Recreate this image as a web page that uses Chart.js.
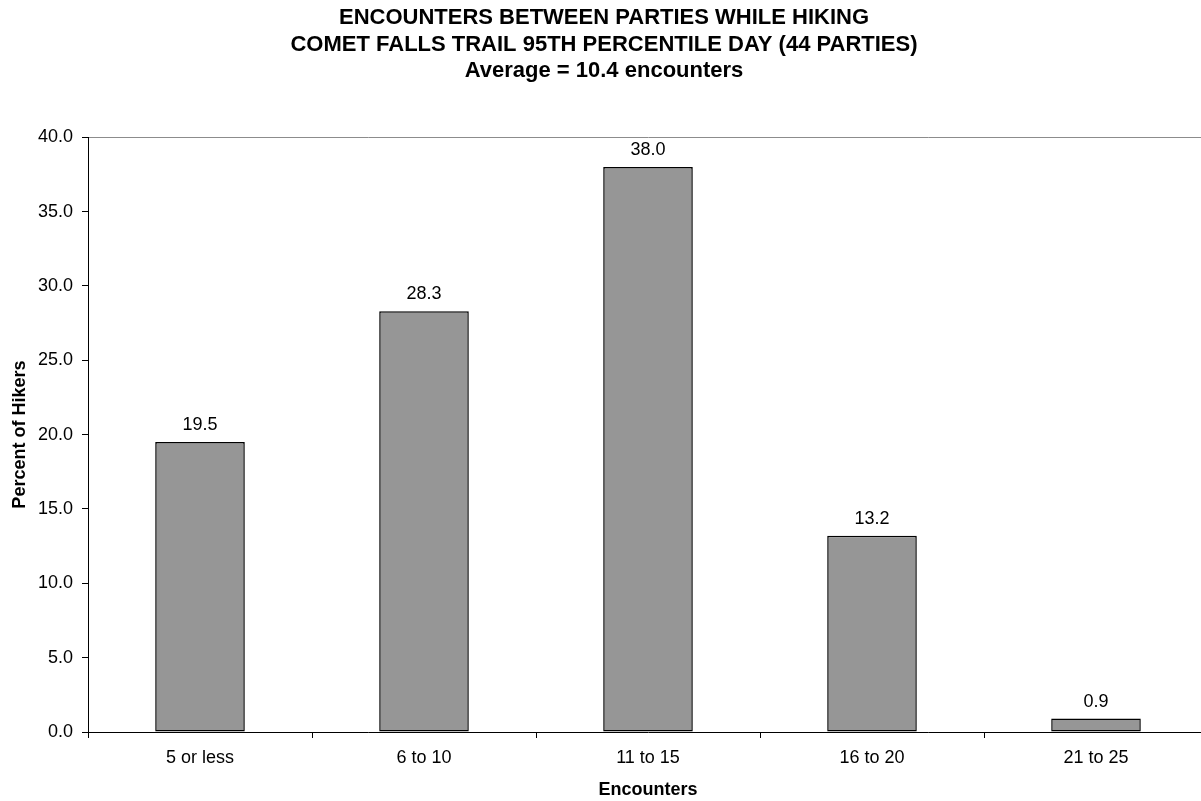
<!DOCTYPE html>
<html>
<head>
<meta charset="utf-8">
<script src="https://cdn.jsdelivr.net/npm/chart.js@4/dist/chart.umd.min.js"></script>
<style>
  html, body { margin: 0; padding: 0; background: #fff; overflow: hidden; }
  #wrap { width: 1201px; height: 801px; overflow: hidden; }
</style>
</head>
<body>
<div id="wrap"><canvas id="c" width="1230" height="801"></canvas></div>
<script>
  // 資料
  var titleLines = [
    'ENCOUNTERS BETWEEN PARTIES WHILE HIKING',
    'COMET FALLS TRAIL 95TH PERCENTILE DAY (44 PARTIES)',
    'Average = 10.4 encounters'
  ];
  var categories = ['5 or less', '6 to 10', '11 to 15', '16 to 20', '21 to 25'];
  var percents = [19.5, 28.3, 38.0, 13.2, 0.9];
  var yMin = 0, yMax = 40, yStep = 5;

  var FONT = "'Liberation Sans', Arial, sans-serif";

  /* 長條上方數值標籤 */
  var valueLabels = {
    id: 'valueLabels',
    afterDatasetsDraw: function (chart) {
      var ctx = chart.ctx;
      var meta = chart.getDatasetMeta(0);
      ctx.save();
      ctx.font = '18px ' + FONT;
      ctx.fillStyle = '#000';
      ctx.textAlign = 'center';
      ctx.textBaseline = 'middle';
      meta.data.forEach(function (bar, i) {
        ctx.fillText(percents[i].toFixed(1), bar.x, bar.y - 17);
      });
      ctx.restore();
    }
  };

  new Chart(document.getElementById('c').getContext('2d'), {
    type: 'bar',
    data: {
      labels: categories,
      datasets: [{
        data: percents,
        backgroundColor: '#969696',
        borderColor: '#000',
        borderWidth: 1.5,
        borderSkipped: false,
        categoryPercentage: 1,
        barPercentage: 0.4
      }]
    },
    options: {
      responsive: false,
      animation: false,
      layout: { padding: { left: 0, right: 22, top: 0, bottom: 0 } },
      plugins: {
        legend: { display: false },
        tooltip: { enabled: false },
        title: {
          display: true,
          text: titleLines,
          color: '#000',
          font: { family: FONT, size: 22, weight: 'bold', lineHeight: 1.2 },
          padding: { top: 5, bottom: 53 }
        }
      },
      scales: {
        x: {
          offset: true,
          grid: { offset: true, drawOnChartArea: false, drawTicks: true, tickLength: 6, tickColor: '#000' },
          border: { color: '#000', width: 1 },
          ticks: { color: '#000', font: { family: FONT, size: 18 }, padding: 9, maxRotation: 0 },
          title: { display: true, text: 'Encounters', color: '#000', font: { family: FONT, size: 18, weight: 'bold' }, padding: { top: 4, bottom: 0 } },
          afterFit: function (s) { s.height = 69; }
        },
        y: {
          min: yMin, max: yMax,
          ticks: {
            stepSize: yStep, color: '#000', font: { family: FONT, size: 18 }, padding: 9,
            callback: function (v) { return Number(v).toFixed(1); }
          },
          grid: {
            drawTicks: true, tickLength: 6,
            color: function (c) { return c.tick && c.tick.value === yMax ? '#8c8c8c' : 'rgba(0,0,0,0)'; },
            tickColor: '#000'
          },
          border: { color: '#000', width: 1 },
          title: { display: true, text: 'Percent of Hikers', color: '#000', font: { family: FONT, size: 18, weight: 'bold' }, padding: { top: 9, bottom: 4 } },
          afterFit: function (s) { s.width = 88; }
        }
      }
    },
    plugins: [valueLabels]
  });
</script>
</body>
</html>
